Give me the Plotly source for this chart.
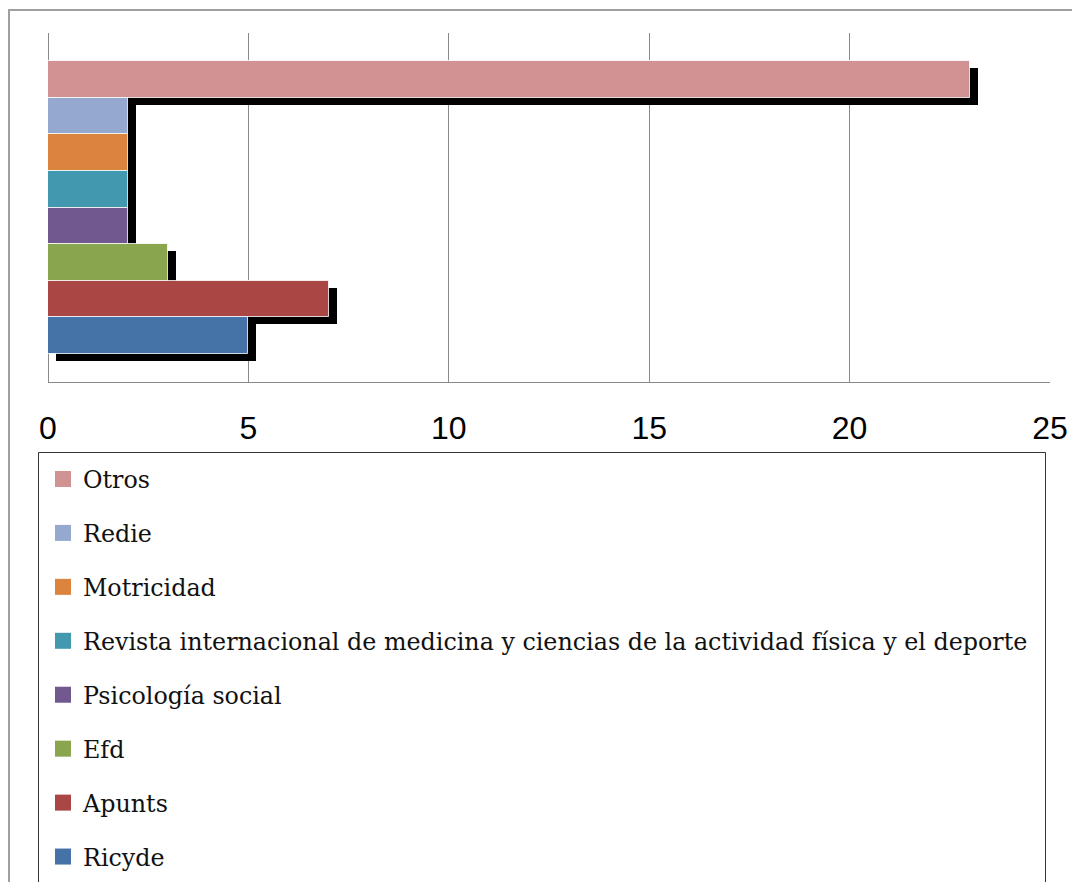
import plotly.graph_objects as go

categories = ["Otros", "Redie", "Motricidad",
              "Revista internacional de medicina y ciencias de la actividad física y el deporte",
              "Psicología social", "Efd", "Apunts", "Ricyde"]
values = [23, 2, 2, 2, 2, 3, 7, 5]
colors = ["#D09292", "#95A9D0", "#DB843D", "#4198AF", "#71588F", "#89A54E", "#AA4643", "#4572A7"]
tick_vals = [0, 5, 10, 15, 20, 25]

n = len(categories)
positions = [n - 1 - i for i in range(n)]  # Otros at top

# page offset (body margin) and figure geometry
OFF = 8
W, H = 1080 - OFF, 882 - OFF
# plot area in page pixels: x 48..1050, y 33..382
L = 48 - OFF
T = 33 - OFF
R = W - (1050 - OFF)
B = H - (382 - OFF)
pw = W - L - R
ph = H - T - B
x_range = [0, 25]
y_range = [-1.265, n - 1 + 1.265]
px_per_x = pw / (x_range[1] - x_range[0])
px_per_y = ph / (y_range[1] - y_range[0])
shadow_dx = 8 / px_per_x
shadow_dy = 7 / px_per_y

def px2paper_x(p):  # p = page pixel
    return (p - OFF - L) / pw

def px2paper_y(p):
    return (H - B - (p - OFF)) / ph

fig = go.Figure()

# shadows
for i in range(n):
    fig.add_trace(go.Bar(
        x=[values[i]], y=[positions[i] - shadow_dy], base=[shadow_dx],
        orientation="h", width=1, marker=dict(color="black", line=dict(width=0)),
        showlegend=False, hoverinfo="skip"))

# bars
for i in range(n):
    fig.add_trace(go.Bar(
        x=[values[i]], y=[positions[i]], orientation="h", width=1, name=categories[i],
        marker=dict(color=colors[i], line=dict(color="rgba(255,255,255,0.8)", width=1)),
        showlegend=False))

# legend entries
for i in range(n):
    fig.add_trace(go.Scatter(
        x=[None], y=[None], mode="markers", name=categories[i], legendgroup=f"g{i}",
        marker=dict(symbol="square", size=16, color=colors[i]), showlegend=True))

fig.update_layout(
    width=W, height=H,
    margin=dict(l=L, r=R, t=T, b=B, autoexpand=False),
    paper_bgcolor="white", plot_bgcolor="white",
    barmode="overlay", bargap=0,
    xaxis=dict(range=x_range, tickvals=tick_vals, ticktext=[str(v) for v in tick_vals],
               showgrid=True, gridcolor="#8a8a8a", gridwidth=1,
               zeroline=True, zerolinecolor="#8a8a8a", zerolinewidth=1,
               showline=True, linecolor="#8a8a8a", linewidth=1,
               ticks="", ticklabelstandoff=18,
               tickfont=dict(family="Liberation Sans, Arial", size=32, color="black")),
    yaxis=dict(range=y_range, showgrid=False, zeroline=False, showticklabels=False,
               showline=False, ticks=""),
    legend=dict(x=px2paper_x(43), y=px2paper_y(457), xanchor="left", yanchor="top",
                borderwidth=0, bgcolor="rgba(0,0,0,0)",
                font=dict(family="DejaVu Serif, serif", size=23.8, color="#111"),
                tracegroupgap=20, traceorder="grouped"),
    shapes=[
        dict(type="rect", xref="paper", yref="paper",
             x0=px2paper_x(9), x1=px2paper_x(1100),
             y0=px2paper_y(900), y1=px2paper_y(10),
             line=dict(color="#a0a0a0", width=2), fillcolor="rgba(0,0,0,0)", layer="below"),
        dict(type="rect", xref="paper", yref="paper",
             x0=px2paper_x(38.5), x1=px2paper_x(1045.5),
             y0=px2paper_y(900), y1=px2paper_y(452.5),
             line=dict(color="#333333", width=1), fillcolor="rgba(0,0,0,0)", layer="below"),
    ],
)

fig.write_html("out.html")
